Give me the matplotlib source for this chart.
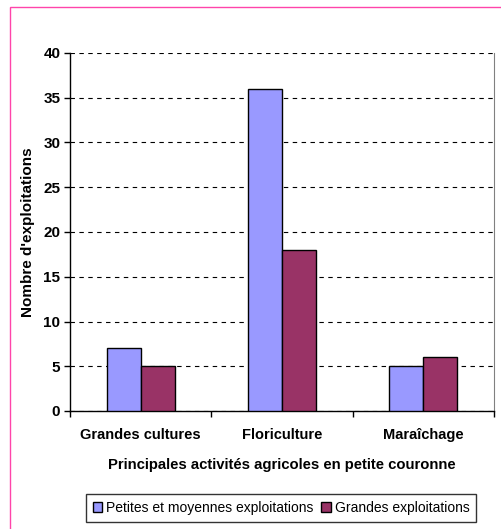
import matplotlib
matplotlib.use("Agg")
import matplotlib.pyplot as plt
import numpy as np
from matplotlib.patches import Rectangle

plt.rcParams['font.family'] = ['Liberation Sans', 'DejaVu Sans']

categories = ['Grandes cultures', 'Floriculture', 'Maraîchage']
petites = [7, 36, 5]
grandes = [5, 18, 6]
series_names = ['Petites et moyennes exploitations', 'Grandes exploitations']

fig = plt.figure(figsize=(5.02, 5.29), dpi=100)
W, H = 502, 529
# pink frame
fig.patches.append(Rectangle((10 / W, -0.1), 1.2, (529 - 7) / H + 0.1,
                             transform=fig.transFigure, fill=False,
                             edgecolor='#FF44AA', linewidth=1.0))

ax = fig.add_axes([70 / W, 1 - 411 / H, (494 - 70) / W, (411 - 53) / H])

x = np.arange(len(categories))
bw = 0.24
ax.bar(x - bw / 2, petites, bw, color='#9999FF', edgecolor='black',
       linewidth=1, label=series_names[0], zorder=3)
ax.bar(x + bw / 2, grandes, bw, color='#993366', edgecolor='black',
       linewidth=1, label=series_names[1], zorder=3)

ax.set_xlim(-0.5, 2.5)
ax.set_ylim(0, 40)
ax.set_yticks(np.arange(0, 41, 5))
ax.yaxis.grid(True, linestyle=(0, (4, 4)), color='black', linewidth=0.8)
ax.set_axisbelow(True)

ax.set_xticks(x)
ax.set_xticklabels(categories, fontweight='bold', fontsize=10.5)
ax.set_xticks([-0.5, 0.5, 1.5, 2.5], minor=True)
ax.tick_params(axis='x', which='major', length=0, pad=12)
ax.tick_params(axis='x', which='minor', length=4, width=1)
ax.tick_params(axis='y', length=4, width=1, labelsize=11, pad=3)
for lab in ax.get_yticklabels():
    lab.set_fontweight('bold')

ax.spines['top'].set_visible(False)
ax.spines['right'].set_color('#808080')
ax.spines['left'].set_linewidth(1)
ax.spines['bottom'].set_linewidth(1)

ax.set_xlabel('Principales activités agricoles en petite couronne',
              fontweight='bold', fontsize=10.7, labelpad=12)
ax.set_ylabel("Nombre d'exploitations", fontweight='bold', fontsize=11)
ax.yaxis.set_label_coords(-0.083, 0.5)

leg = fig.legend(loc='center', bbox_to_anchor=(281 / W, 1 - 508 / H), ncol=2,
                 fontsize=10, frameon=True, fancybox=False, edgecolor='black',
                 handlelength=0.7, handleheight=0.7, handletextpad=0.3,
                 columnspacing=0.5, borderpad=0.5)
leg.get_frame().set_linewidth(1)

fig.savefig('out.png', dpi=100)
